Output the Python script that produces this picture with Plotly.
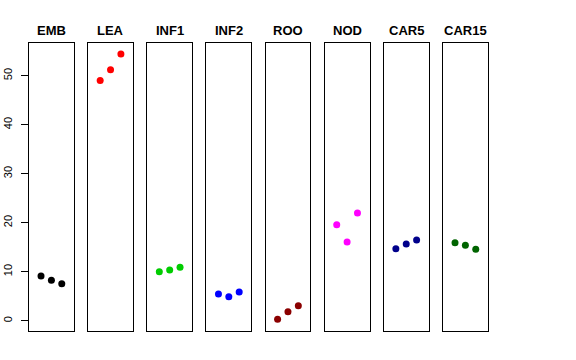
import plotly.graph_objects as go

categories = ["EMB", "LEA", "INF1", "INF2", "ROO", "NOD", "CAR5", "CAR15"]
x_positions = [1, 2, 3]
emb = [9.1, 8.25, 7.55]
lea = [49.0, 51.2, 54.4]
inf1 = [10.0, 10.35, 10.9]
inf2 = [5.45, 4.9, 5.85]
roo = [0.3, 1.85, 3.05]
nod = [19.6, 16.05, 22.0]
car5 = [14.7, 15.65, 16.45]
car15 = [15.9, 15.4, 14.6]
series = [emb, lea, inf1, inf2, roo, nod, car5, car15]
colors = ["#000000", "#FF0000", "#00CD00", "#0000FF", "#8B0000", "#FF00FF", "#00008B", "#006400"]
y_ticks = [0, 10, 20, 30, 40, 50]

W, H = 576, 360
left0, pitch, pw = 29.0, 59.14, 44.8
top_px, bot_px = 43.3, 331.0

fig = go.Figure()
layout = dict(width=W, height=H, margin=dict(l=0, r=0, t=0, b=0),
              paper_bgcolor="white", plot_bgcolor="white", showlegend=False,
              font=dict(family="Liberation Sans, Arial, sans-serif", color="black"))
annotations = []
for i, (cat, vals, col) in enumerate(zip(categories, series, colors)):
    n = "" if i == 0 else str(i + 1)
    x0 = (left0 + i * pitch) / W
    x1 = (left0 + i * pitch + pw) / W
    fig.add_trace(go.Scatter(x=x_positions, y=vals, mode="markers",
                             marker=dict(color=col, size=7, line=dict(width=0)),
                             xaxis="x" + n, yaxis="y" + n, hoverinfo="skip"))
    layout["xaxis" + n] = dict(domain=[x0, x1], range=[-0.16, 4.16], anchor="y" + n,
                               showgrid=False, zeroline=False, showticklabels=False, ticks="",
                               showline=True, mirror=True, linecolor="black", linewidth=1)
    ya = dict(domain=[1 - bot_px / H, 1 - top_px / H], range=[-2.1, 56.6], anchor="x" + n,
              showgrid=False, zeroline=False,
              showline=True, mirror=True, linecolor="black", linewidth=1)
    if i == 0:
        ya.update(tickvals=y_ticks, ticks="outside", ticklen=7, tickcolor="black",
                  tickangle=-90, tickfont=dict(size=11, color="black"), ticklabelstandoff=5)
    else:
        ya.update(showticklabels=False, ticks="")
    layout["yaxis" + n] = ya
    annotations.append(dict(text="<b>" + cat + "</b>", x=(x0 + x1) / 2, y=1 - 30 / H,
                            xref="paper", yref="paper", showarrow=False,
                            xanchor="center", yanchor="middle",
                            font=dict(size=13, color="black")))
layout["annotations"] = annotations
fig.update_layout(**layout)
fig.write_html("out.html", config={"displayModeBar": False},
               post_script="document.body.style.margin='0';document.body.style.overflow='hidden';")
